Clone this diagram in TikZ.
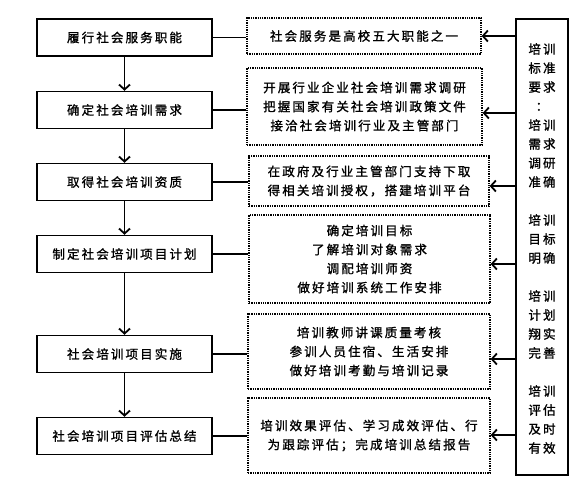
\documentclass[tikz,border=0pt]{standalone}
\usepackage{fontspec}
\newfontfamily\cjk[LetterSpace=17,FakeBold=1.2]{Noto Sans CJK SC}
\usetikzlibrary{arrows.meta}
\tikzset{
  mainbox/.style={draw, line width=1.5pt, minimum width=175pt, minimum height=37pt, inner sep=0pt, font=\cjk\fontsize{12.5}{19}\selectfont},
  dotbox/.style={draw, densely dotted, line width=1.3pt, inner sep=0pt, align=center, font=\cjk\fontsize{12.5}{19}\selectfont},
  link/.style={line width=1.5pt},
  arr/.style={line width=1.8pt, -{Straight Barb[length=5pt,width=11pt,line width=1.8pt]}}
}
\begin{document}
\begin{tikzpicture}[x=1pt,y=-1pt]
\useasboundingbox (0,0) rectangle (588,477);
\fill[white] (0,0) rectangle (588,477);
% left main boxes
\node[mainbox] (l1) at (124.5,37.5) {履行社会服务职能};
\node[mainbox] (l2) at (124.5,110) {确定社会培训需求};
\node[mainbox] (l3) at (124.5,182) {取得社会培训资质};
\node[mainbox] (l4) at (124.5,254) {制定社会培训项目计划};
\node[mainbox] (l5) at (124.5,354) {社会培训项目实施};
\node[mainbox] (l6) at (124.5,436) {社会培训项目评估总结};
% dotted boxes
\node[dotbox, minimum width=234pt, minimum height=36pt] (d1) at (364,36) {社会服务是高校五大职能之一};
\node[dotbox, minimum width=235pt, minimum height=77pt] (d2) at (364.5,106.5) {开展行业企业社会培训需求调研\\把握国家有关社会培训政策文件\\接洽社会培训行业及主管部门};
\node[dotbox, minimum width=240pt, minimum height=50pt] (d3) at (369,181) {在政府及行业主管部门支持下取\\得相关培训授权，搭建培训平台};
\node[dotbox, minimum width=241pt, minimum height=88pt] (d4) at (369.5,259) {确定培训目标\\了解培训对象需求\\调配培训师资\\做好培训系统工作安排};
\node[dotbox, minimum width=242pt, minimum height=75pt] (d5) at (369,351.5) {培训教师讲课质量考核\\参训人员住宿、生活安排\\做好培训考勤与培训记录};
\node[dotbox, minimum width=242pt, minimum height=75pt] (d6) at (369,435.5) {培训效果评估、学习成效评估、行\\为跟踪评估；完成培训总结报告};
% right tall box
\node[draw, line width=1.5pt, minimum width=52pt, minimum height=456pt, inner sep=0pt] (R) at (542,247) {};
\node[align=center, inner sep=0pt, font=\cjk\fontsize{12.5}{19}\selectfont] (Rt) at (542,248.5) {培训\\标准\\要求\\：\\培训\\需求\\调研\\准确\\[19pt]培训\\目标\\明确\\[19pt]培训\\计划\\翔实\\完善\\[19pt]培训\\评估\\及时\\有效};
% down arrows
\draw[arr] (l1.south) -- (l2.north);
\draw[arr] (l2.south) -- (l3.north);
\draw[arr] (l3.south) -- (l4.north);
\draw[arr] (l4.south) -- (l5.north);
\draw[arr] (l5.south) -- (l6.north);
% links
\foreach \i in {1,...,6} {\draw[link] (l\i.east) -- (l\i.east -| d\i.west);}
% arrows from right box
\coordinate (a1) at (0,36);
\coordinate (a2) at (0,113);
\coordinate (a3) at (0,186);
\coordinate (a4) at (0,264);
\coordinate (a5) at (0,359);
\coordinate (a6) at (0,435);
\foreach \i in {1,...,6} {\draw[arr] (R.west |- a\i) -- (d\i.east |- a\i);}
\end{tikzpicture}
\end{document}
